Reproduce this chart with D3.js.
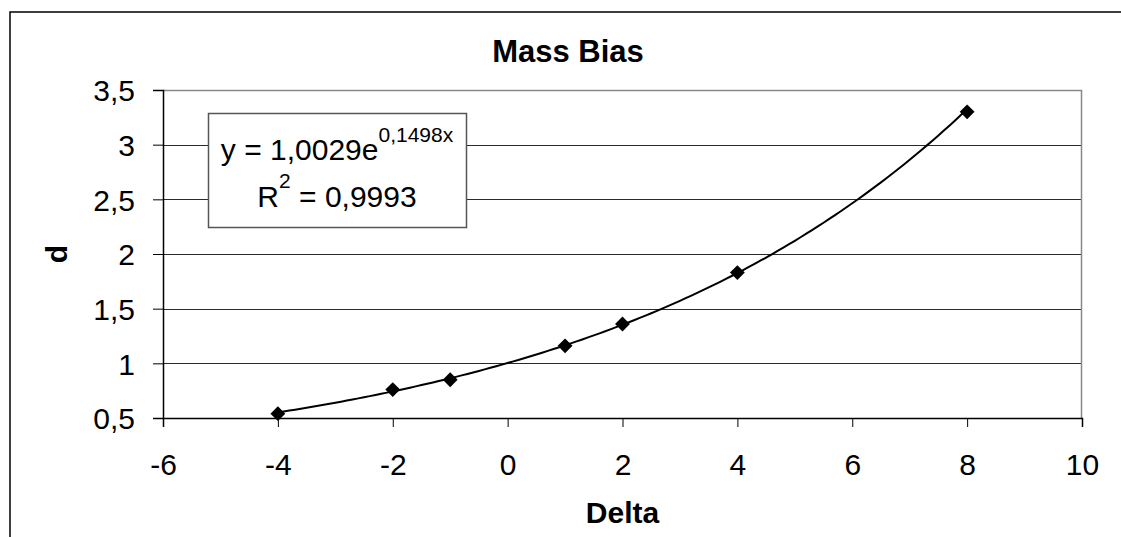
<!DOCTYPE html>
<html>
<head>
<meta charset="utf-8">
<script src="https://cdn.jsdelivr.net/npm/d3@7"></script>
<style>
  body { margin: 0; background: #fff; }
  text { font-family: "Liberation Sans", Arial, sans-serif; fill: #000; }
</style>
</head>
<body>
<div id="chart"></div>
<script>
const width = 1121
const height = 537
const margin = { top: 90, bottom: 119, left: 163, right: 39 }

// data
const delta = [-4, -2, -1, 1, 2, 4, 8]
const dValues = [0.54, 0.76, 0.85, 1.16, 1.36, 1.83, 3.30]
const xTicks = [-6, -4, -2, 0, 2, 4, 6, 8, 10]
const yTicks = [0.5, 1, 1.5, 2, 2.5, 3, 3.5]
// trendline coefficients (y = a * e^(b x))
const trendA = 1.0029
const trendB = 0.1498
const trendR2 = "0,9993"

const fmt = d => String(d).replace(".", ",")

const svg = d3.select("#chart").append("svg").attr("width", width).attr("height", height)

// outer chart frame (cut by the picture on right/bottom)
svg.append("path")
    .attr("d", `M10,${height + 2} L10,12 L${width + 2},12`)
    .attr("fill", "none").attr("stroke", "#000").attr("stroke-width", 1.5)

const innerW = width - margin.left - margin.right
const innerH = height - margin.top - margin.bottom

const x = d3.scaleLinear().domain([-6, 10]).range([0, innerW])
const y = d3.scaleLinear().domain([0.5, 3.5]).range([innerH, 0])

const g = svg.append("g").attr("transform", `translate(${margin.left}, ${margin.top})`)

// gridlines
g.selectAll("line.grid").data(yTicks.filter(d => d > 0.5 && d < 3.5)).enter()
    .append("line").attr("class", "grid")
    .attr("x1", 0).attr("x2", innerW)
    .attr("y1", d => Math.round(y(d)) + 0.5).attr("y2", d => Math.round(y(d)) + 0.5)
    .attr("stroke", "#2a2a2a").attr("stroke-width", 1)

// plot area border top/right
g.append("path")
    .attr("d", `M0,0.5 L${innerW - 0.5},0.5 L${innerW - 0.5},${innerH}`)
    .attr("fill", "none").attr("stroke", "#888").attr("stroke-width", 1.5)

// axes
const xAxis = d3.axisBottom(x).tickValues(xTicks).tickSize(9).tickPadding(27).tickFormat(fmt)
const yAxis = d3.axisLeft(y).tickValues(yTicks).tickSize(10).tickPadding(18).tickFormat(fmt)

const xAxisGroup = g.append("g").attr("transform", `translate(0, ${innerH})`).call(xAxis)
const yAxisGroup = g.append("g").call(yAxis)

;[xAxisGroup, yAxisGroup].forEach(ax => {
    ax.select(".domain").attr("stroke", "#000").attr("stroke-width", 1.5)
    ax.selectAll(".tick line").attr("stroke", "#000").attr("stroke-width", 1)
    ax.selectAll(".tick text").attr("font-size", 30).attr("font-family", "Liberation Sans, Arial, sans-serif").attr("fill", "#000")
})
yAxisGroup.selectAll(".tick text").attr("dy", "0.36em")

// trendline
const trendX = d3.range(-4, 8.0001, 0.1)
const line = d3.line().x(d => x(d)).y(d => y(trendA * Math.exp(trendB * d)))
g.append("path").datum(trendX)
    .attr("d", line)
    .attr("fill", "none").attr("stroke", "#000").attr("stroke-width", 2)

// markers
g.selectAll("path.pt").data(delta).enter()
    .append("path").attr("class", "pt")
    .attr("d", d3.symbol().type(d3.symbolDiamond2).size(140))
    .attr("transform", (d, i) => `translate(${x(d)}, ${y(dValues[i])})`)
    .attr("fill", "#000")

// title and axis labels
svg.append("text").attr("x", 568).attr("y", 62).attr("text-anchor", "middle")
    .attr("font-size", 31).attr("font-weight", "bold").text("Mass Bias")
svg.append("text").attr("x", margin.left + innerW / 2).attr("y", 523).attr("text-anchor", "middle")
    .attr("font-size", 30).attr("font-weight", "bold").text("Delta")
svg.append("text").attr("transform", `translate(67, ${margin.top + innerH / 2}) rotate(-90)`)
    .attr("text-anchor", "middle")
    .attr("font-size", 30).attr("font-weight", "bold").text("d")

// equation box
const box = svg.append("g")
box.append("rect").attr("x", 208.5).attr("y", 113.5).attr("width", 258).attr("height", 114)
    .attr("fill", "#fff").attr("stroke", "#555").attr("stroke-width", 1.5)
const t1 = box.append("text").attr("x", 337).attr("y", 160).attr("text-anchor", "middle").attr("font-size", 30)
t1.append("tspan").text("y = " + fmt(trendA) + "e")
t1.append("tspan").attr("dy", -18).attr("font-size", 21).text(fmt(trendB) + "x")
const t2 = box.append("text").attr("x", 337).attr("y", 207).attr("text-anchor", "middle").attr("font-size", 30)
t2.append("tspan").text("R")
t2.append("tspan").attr("dy", -19).attr("font-size", 21).text("2")
t2.append("tspan").attr("dy", 19).text(" = " + trendR2)
</script>
</body>
</html>
